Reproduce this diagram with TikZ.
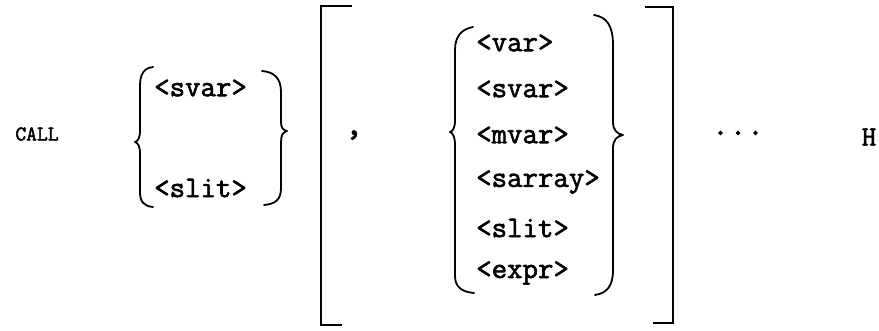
\documentclass[tikz,border=0pt]{standalone}
\usepackage{fontspec}
\newfontfamily\tw[FakeBold=2]{Latin Modern Mono}
\begin{document}
\begin{tikzpicture}[x=1pt,y=-1pt,
  txt/.style={inner sep=0pt,font=\fontsize{30}{30}\tw,anchor=west},
  brace/.style={line width=1.8pt,line cap=round,line join=round},
  bracket/.style={line width=2.8pt,line join=miter}]
\useasboundingbox (0,0) rectangle (879,330);
% keyword
\node[inner sep=0pt,font=\fontsize{21}{21}\tw] (call) at (37,134) {CALL};
% first choice
\draw[brace] (153,67) .. controls (144,68) and (140,74) .. (140,86) -- (140,130)
  .. controls (140,138) and (138,141) .. (135,142)
  .. controls (138,143) and (140,146) .. (140,154) -- (140,192)
  .. controls (140,202) and (144,206) .. (153,207);
\node[txt] (svar1) at (154,88) {<svar>};
\node[txt] (slit1) at (154,188) {<slit>};
\draw[brace] (262,71) .. controls (274,72) and (281,78) .. (281,92) -- (281,122)
  .. controls (281,128) and (283,130) .. (287,131)
  .. controls (283,132) and (281,135) .. (281,142) -- (281,188)
  .. controls (281,199) and (276,204) .. (264,205);
% optional bracket
\draw[bracket] (352,6) -- (321,6) -- (321,325) -- (342,325);
\node[inner sep=0pt,font=\fontsize{36}{36}\tw] (comma) at (354,135) {,};
\draw[brace] (473,27) .. controls (462,29) and (455,36) .. (455,50) -- (455,120)
  .. controls (455,128) and (453,131) .. (450,132)
  .. controls (453,133) and (455,137) .. (455,145) -- (455,276)
  .. controls (455,287) and (462,292) .. (474,293);
\node[txt] (var) at (476,43) {<var>};
\node[txt] (svar2) at (476,89) {<svar>};
\node[txt] (mvar) at (476,135) {<mvar>};
\node[txt] (sarray) at (476,182) {<sarray>};
\node[txt] (slit2) at (476,228) {<slit>};
\node[txt] (expr) at (476,273) {<expr>};
\draw[brace] (594,15) .. controls (607,17) and (613,26) .. (613,45) -- (613,122)
  .. controls (613,130) and (617,134) .. (623,135)
  .. controls (617,136) and (613,140) .. (613,148) -- (613,270)
  .. controls (613,286) and (607,293) .. (595,295);
\draw[bracket] (645,7) -- (673,7) -- (673,323) -- (653,323);
% repetition and end
\node[inner sep=0pt,font=\fontsize{34}{34}\tw] (dots) at (738,133) {...};
\node[inner sep=0pt,font=\fontsize{28}{28}\tw] (h) at (869,137) {H};
\end{tikzpicture}
\end{document}
